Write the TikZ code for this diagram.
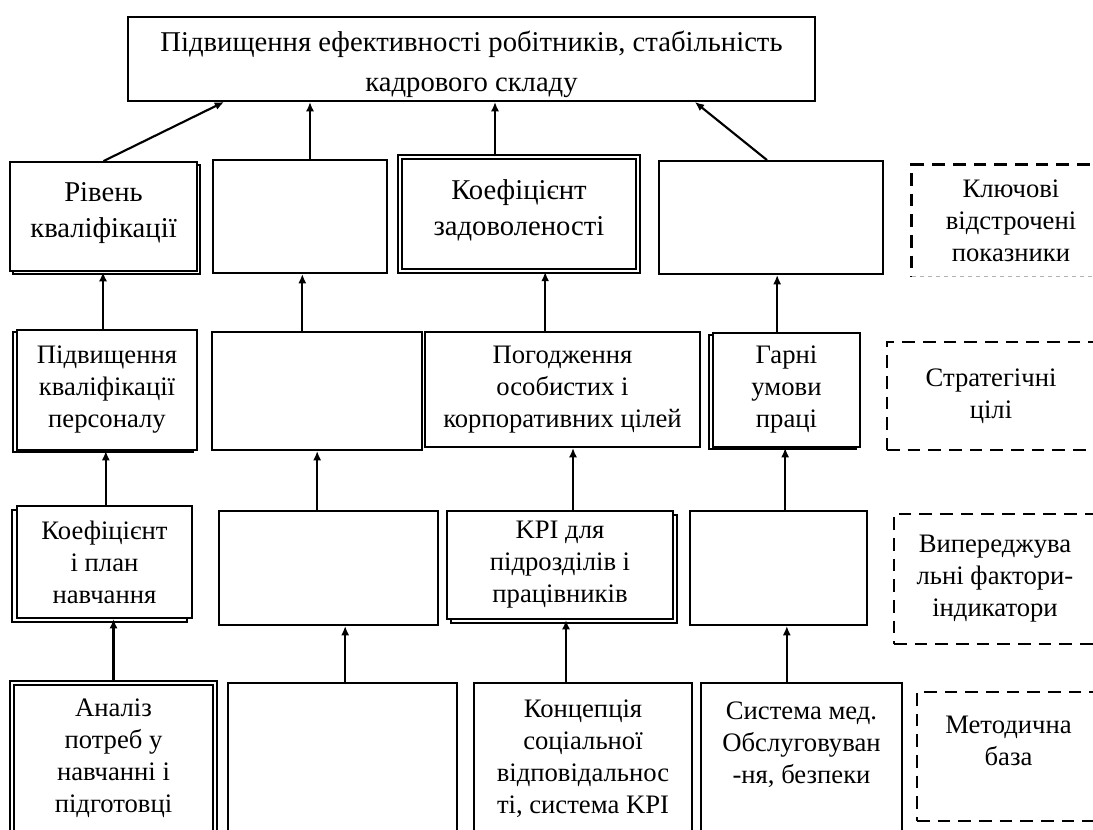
\documentclass[tikz,border=0pt]{standalone}
\usepackage{fontspec}
\setmainfont{Liberation Serif}
\usetikzlibrary{positioning,arrows.meta,shadows}

\tikzset{
  box/.style={rectangle,draw=black,fill=white,line width=1.4pt,inner sep=0pt,align=center,
    font=\fontsize{20}{24}\selectfont},
  big/.style={font=\fontsize{21.5}{27}\selectfont},
  wh/.style 2 args={minimum width=#1*0.75pt,minimum height=#2*0.75pt},
  sbox/.style 2 args={box,copy shadow={shadow xshift=#1,shadow yshift=#2}},
  dbox/.style={box,double,double distance=2.2pt,line width=1.3pt},
  goal/.style={rectangle,inner sep=0pt,align=center,font=\fontsize{20}{24}\selectfont},
  dline/.style={draw,line width=2.2pt,dash pattern=on 9.5pt off 6pt},
  arr/.style={-{Latex[length=7pt,width=6pt]},line width=1.6pt}
}

\begin{document}
\begin{tikzpicture}[x=0.75pt,y=-0.75pt]

\clip (0,0) rectangle (1093,829);
\fill[white] (0,0) rectangle (1093,829);

% result
\node (top) [box,wh={687}{84},font=\fontsize{21.5}{30}\selectfont] at (471.5,59)
  {\rule{0pt}{24pt}Підвищення ефективності робітників, стабільність\\кадрового складу};

% key lagging indicators
\node (a1) [sbox={2.5pt}{-2.5pt},big,wh={187}{109}] at (103.5,216.5) {Рівень\\кваліфікації\rule[-9pt]{0pt}{0pt}};
\node (b1) [box,wh={174}{113}] at (300,216.5) {};
\node (c1) [dbox,big,wh={238}{114}] at (519,214) {Коефіцієнт\\задоволеності\rule[-9pt]{0pt}{0pt}};
\node (d1) [box,wh={224}{113}] at (771,217.5) {};
\node (l1) [goal,wh={198}{111}] at (1011,220.5) {Ключові\\відстрочені\\показники};

% strategic goals
\node (a2) [sbox={-3pt}{-1.5pt},wh={180}{120}] at (107,390) {Підвищення\\кваліфікації\\персоналу};
\node (b2) [box,wh={210}{118}] at (317,391) {};
\node (c2) [box,wh={275}{115}] at (562.5,389.5) {Погодження\\особистих і\\корпоративних цілей};
\node (d2) [sbox={-3pt}{-1.5pt},wh={147}{114}] at (786.5,390) {Гарні\\умови\\праці};
\node (l2) [goal,dline,wh={208}{108}] at (991,396) {Стратегічні\\цілі};

% leading indicators
\node (a3) [sbox={-3.5pt}{-3pt},wh={175}{112}] at (104.5,562) {Коефіцієнт\\і план\\навчання};
\node (b3) [box,wh={219}{114}] at (328.5,568) {};
\node (c3) [sbox={3pt}{-3pt},wh={226}{108}] at (560,565) {KPI для\\підрозділів і\\працівників};
\node (d3) [box,wh={177}{114}] at (778.5,568) {};
\node (l3) [goal,dline,wh={202}{130}] at (995,579) {Випереджува\\льні фактори-\\індикатори};

% methodical base
\node (a4) [dbox,wh={203}{151}] at (113.5,758.5) {Аналіз\\потреб у\\навчанні і\\підготовці};
\node (b4) [box,wh={229}{151}] at (342.5,758.5) {};
\node (c4) [box,wh={218}{151}] at (583,758.5) {Концепція\\соціальної\\відповідальнос\\ті, система KPI};
\node (d4) [box,wh={201}{151}] at (801.5,758.5) {Система мед.\\Обслуговуван\\-ня, безпеки\\~};
\node (l4) [goal,dline,wh={183}{129}] at (1008.5,756.5) {Методична\\база\\~};

\draw[dline] (l1.north east) -- (l1.north west) -- (l1.south west);
\draw[dashed,gray!60,line width=0.8pt] (l1.south west) -- (l1.south east);

% arrows
\draw[arr] (a1.north) -- ([xshift=72.75pt]top.south west);
\draw[arr] ([xshift=7.5pt]b1.north) -- ([xshift=7.5pt]b1.north |- top.south);
\draw[arr] ([xshift=-18pt]c1.north) -- ([xshift=-18pt]c1.north |- top.south);
\draw[arr] ([xshift=-3pt]d1.north) -- ([xshift=167.5pt]top.south);

\foreach \from/\to/\dx in {a2/a1/-3pt, b2/b1/-11pt, c2/c1/-13pt, d2/d1/-7pt,
    a3/a2/1pt, b3/b2/-8.5pt, c3/c2/9.75pt, d3/d2/5pt,
    a4/a3/0pt, b4/b3/2pt, c4/c3/-12.75pt, d4/d3/-11pt}
  \draw[arr] ([xshift=\dx]\from.north) -- ([xshift=\dx]\from.north |- \to.south);

\end{tikzpicture}
\end{document}
